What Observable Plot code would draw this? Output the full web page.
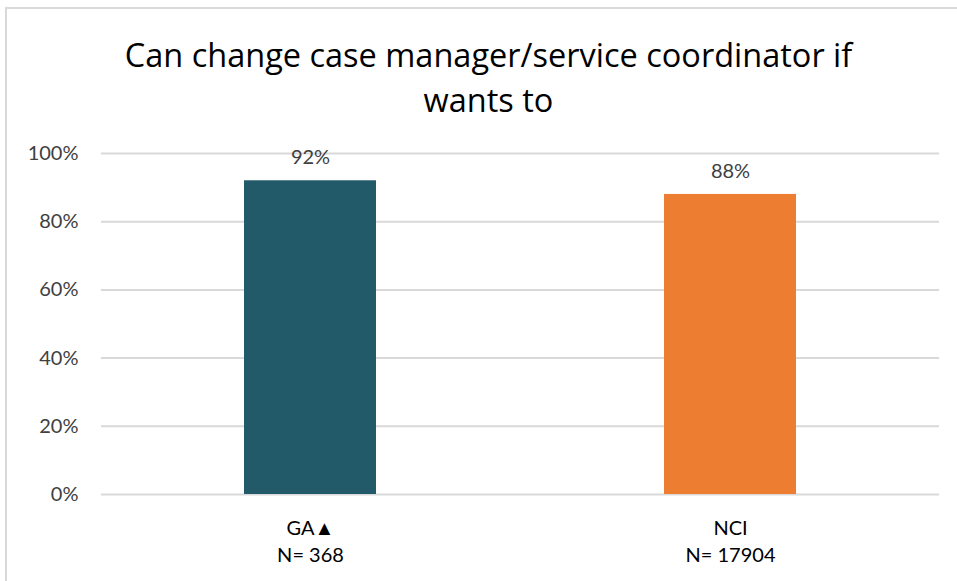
<!DOCTYPE html>
<html>
<head>
<meta charset="utf-8">
<script src="https://cdn.jsdelivr.net/npm/d3@7"></script>
<script src="https://cdn.jsdelivr.net/npm/@observablehq/plot@0.6"></script>
<style>
  html, body { margin: 0; padding: 0; background: #fff; }
  #wrap { position: relative; width: 957px; height: 581px; overflow: hidden; background: #fff; }
  #frame { position: absolute; left: 5px; top: 7px; width: 960px; height: 600px; border-left: 2px solid #d9d9d9; border-top: 2px solid #d9d9d9; box-sizing: border-box; }
  #title { position: absolute; left: 0; width: 977px; top: 32px; text-align: center; font-family: "Open Sans", sans-serif; font-size: 32.5px; line-height: 45px; color: #000; }
  #chart { position: absolute; left: 0; top: 0; }
</style>
</head>
<body>
<div id="wrap">
  <div id="frame"></div>
  <div id="chart"></div>
  <div id="title">Can change case manager/service coordinator if<br>wants to</div>
</div>
<script>
const categories = ["GA▲", "NCI"];
const sampleSizes = ["N= 368", "N= 17904"];
const values = [0.92, 0.88];
const colors = ["#225A6A", "#ED7D31"];
const yTicks = [0, 0.2, 0.4, 0.6, 0.8, 1.0];

const data = categories.map((c, i) => ({category: c, n: sampleSizes[i], value: values[i], color: colors[i]}));
const labelOf = new Map(categories.map((c, i) => [c, c + "\n" + sampleSizes[i]]));

const chart = Plot.plot({
  width: 957,
  height: 581,
  marginLeft: 101,
  marginRight: 18,
  marginTop: 153,
  marginBottom: 87,
  style: {fontFamily: "Lato, sans-serif", background: "transparent"},
  x: {domain: categories, paddingInner: 0.686, paddingOuter: 0.3405, label: null},
  y: {domain: [0, 1], label: null},
  marks: [
    Plot.gridY(yTicks, {stroke: "#d9d9d9", strokeOpacity: 1, strokeWidth: 2}),
    Plot.axisY(yTicks, {tickSize: 0, tickPadding: 23, tickFormat: d => Math.round(d * 100) + "%", fontSize: 20, fill: "#404040", label: null}),
    Plot.barY(data, {x: "category", y: "value", fill: "color"}),
    Plot.axisX({tickSize: 0, tickPadding: 22, tickFormat: d => labelOf.get(d), fontSize: 20, lineHeight: 1.32, fill: "#000", label: null}),
    Plot.text(data, {x: "category", y: "value", text: d => Math.round(d.value * 100) + "%", dy: -23, fontSize: 20, fill: "#404040"})
  ]
});
document.getElementById("chart").appendChild(chart);
</script>
</body>
</html>
